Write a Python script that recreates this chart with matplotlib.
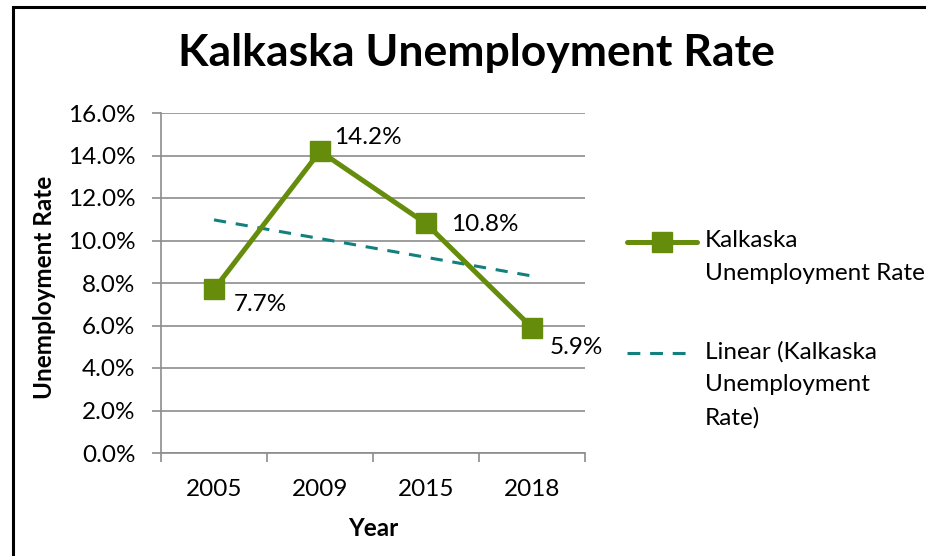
import matplotlib
matplotlib.use("Agg")
import matplotlib.pyplot as plt
import numpy as np
from matplotlib.patches import Rectangle
from matplotlib.lines import Line2D
from matplotlib.ticker import FixedLocator, PercentFormatter

plt.rcParams['font.family'] = ['Lato', 'DejaVu Sans']

years = ["2005", "2009", "2015", "2018"]
rates = [7.7, 14.2, 10.8, 5.9]
label_offsets = [(14, -11), (10, 10), (18, -1), (13, -14)]  # points
series_name = "Kalkaska\nUnemployment Rate"
trend_name = "Linear (Kalkaska\nUnemployment\nRate)"

GREEN = '#668C0C'
TEAL = '#12807F'
GRID = '#8C8C8C'
FS = 17.5

W, H = 926, 556
fig = plt.figure(figsize=(W/100, H/100), dpi=100)
fig.patch.set_facecolor('white')
ax = fig.add_axes([161/W, 1-453/H, (585-161)/W, (453-113)/H])

x = np.arange(len(years))
ax.plot(x, rates, color=GREEN, lw=3.6, marker='s', ms=14, mfc=GREEN, mec=GREEN,
        zorder=4, solid_joinstyle='miter')
coef = np.polyfit(x + 1, rates, 1)
trend = np.polyval(coef, x + 1)
ax.plot(x, trend, color=TEAL, lw=2.2, ls=(0, (4, 3.2)), zorder=3)

for xi, v, (dx, dy) in zip(x, rates, label_offsets):
    ax.annotate(f"{v:.1f}%", (xi, v), xytext=(dx, dy), textcoords='offset points',
                ha='left', va='center', fontsize=FS, color='black', zorder=5)

ax.set_xlim(-0.5, len(years) - 0.5)
ax.set_ylim(0, 16)
ax.set_yticks(np.arange(0, 16.1, 2))
ax.yaxis.set_major_formatter(PercentFormatter(decimals=1))
ax.set_xticks(x)
ax.set_xticklabels(years)
ax.xaxis.set_minor_locator(FixedLocator(np.arange(-0.5, len(years), 1.0)))
ax.tick_params(axis='x', which='major', length=0, pad=19, labelsize=FS)
ax.tick_params(axis='x', which='minor', length=6.5, width=1.2, color=GRID, direction='out')
ax.tick_params(axis='y', which='major', length=6.5, width=1.2, color=GRID, pad=12, labelsize=FS)
ax.grid(axis='y', color=GRID, lw=1.2)
ax.set_axisbelow(True)
for s in ['top', 'right']:
    ax.spines[s].set_visible(False)
for s in ['left', 'bottom']:
    ax.spines[s].set_color(GRID)
    ax.spines[s].set_linewidth(1.2)

fig.text(45/W, 1-287/H, "Unemployment Rate", rotation=90, ha='center', va='center',
         fontsize=FS, fontweight='bold')
fig.text(373/W, 1-528/H, "Year", ha='center', va='center', fontsize=FS, fontweight='bold')
fig.text(476/W, 1-53/H, "Kalkaska Unemployment Rate", ha='center', va='center',
         fontsize=32, fontweight='bold')

# legend (handle aligned with first text line, as in the source)
def fx(px):
    return px / W

def fy(py):
    return 1 - py / H

fig.add_artist(Line2D([fx(627), fx(697)], [fy(242), fy(242)], color=GREEN, lw=3.6,
                      solid_capstyle='round', transform=fig.transFigure))
fig.add_artist(Line2D([fx(662)], [fy(242)], color=GREEN, marker='s', ms=14, ls='none',
                      transform=fig.transFigure))
fig.add_artist(Line2D([fx(627), fx(688)], [fy(353), fy(353)], color=TEAL, lw=2.2,
                      ls=(0, (4.2, 3.2)), transform=fig.transFigure))
fig.text(fx(705), fy(242 - 12), series_name, ha='left', va='top', fontsize=FS,
         linespacing=1.68)
fig.text(fx(705), fy(353 - 12), trend_name, ha='left', va='top', fontsize=FS,
         linespacing=1.68)

fig.patches.append(Rectangle((13/W, -0.1), 1.2, 1.1 - 7/H, transform=fig.transFigure,
                             fill=False, edgecolor='black', lw=2.2))

fig.savefig("out.png", dpi=100)
